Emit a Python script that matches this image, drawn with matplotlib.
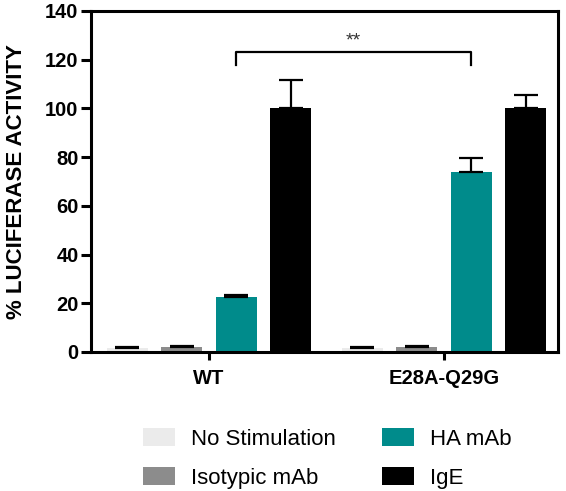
import numpy as np
import matplotlib
matplotlib.use("Agg")
from matplotlib import pyplot as plt
from matplotlib.patches import Patch

plt.rcParams['font.family'] = ['Liberation Sans', 'DejaVu Sans']

groups = ['WT', 'E28A-Q29G']
series = ['No Stimulation', 'Isotypic mAb', 'HA mAb', 'IgE']
colors = ['#ebebeb', '#8c8c8c', '#008b8b', '#000000']

# mean values per series, one entry per group
no_stim = [1.5, 1.5]
isotypic = [2.0, 2.0]
ha_mab = [22.5, 74.0]
ige = [100.0, 100.0]

# upper error (SD) per series
no_stim_err = [0.6, 0.6]
isotypic_err = [0.4, 0.5]
ha_mab_err = [1.0, 5.8]
ige_err = [11.5, 5.5]

values = [no_stim, isotypic, ha_mab, ige]
errors = [no_stim_err, isotypic_err, ha_mab_err, ige_err]

sig_label = '**'
sig_height = 123


def main():
    fig = plt.figure(figsize=(5.66, 4.91), dpi=100)
    ax = fig.add_axes([0.1608, 0.2831, 0.9859 - 0.1608, 0.9776 - 0.2831])

    x = np.arange(len(groups))
    step = 0.232
    width = 0.175
    offsets = (np.arange(len(series)) - 1.5) * step

    for i, (vals, errs) in enumerate(zip(values, errors)):
        ax.bar(x + offsets[i], vals, width=width, color=colors[i],
               yerr=[np.zeros(len(errs)), errs], capsize=8.3,
               error_kw=dict(elinewidth=1.6, capthick=1.6, ecolor='black'),
               zorder=2)

    # significance bracket between the HA mAb bars
    x1 = x[0] + offsets[2]
    x2 = x[1] + offsets[2]
    ax.plot([x1, x1, x2, x2], [sig_height - 5, sig_height, sig_height, sig_height - 5],
            color='black', lw=1.6, clip_on=False)
    ax.text((x1 + x2) / 2, sig_height + 1.2, sig_label, ha='center', va='bottom',
            fontsize=14, color='#333333')

    ax.set_xlim(-0.502, 1.485)
    ax.set_ylim(0, 140)
    ax.set_yticks(range(0, 141, 20))
    ax.set_xticks(x)
    ax.set_xticklabels(groups, fontsize=14.5, fontweight='bold')
    for lbl in ax.get_yticklabels():
        lbl.set_fontsize(14.5)
        lbl.set_fontweight('bold')
    ax.set_ylabel('% LUCIFERASE ACTIVITY', fontsize=16, fontweight='bold', labelpad=13)

    for sp in ax.spines.values():
        sp.set_linewidth(2.2)
    ax.tick_params(axis='y', length=7, width=2.2, pad=2)
    ax.tick_params(axis='x', length=6, width=2.2, pad=6)

    handles = [Patch(facecolor=c, edgecolor='none') for c in colors]
    fig.legend(handles, series, loc='center', bbox_to_anchor=(0.578, 0.066),
               ncol=2, frameon=False, fontsize=16, handlelength=1.44,
               handleheight=0.81, handletextpad=0.7, columnspacing=2.1,
               labelspacing=0.8)

    fig.savefig('out.png', dpi=100)
    plt.close(fig)


if __name__ == '__main__':
    main()
